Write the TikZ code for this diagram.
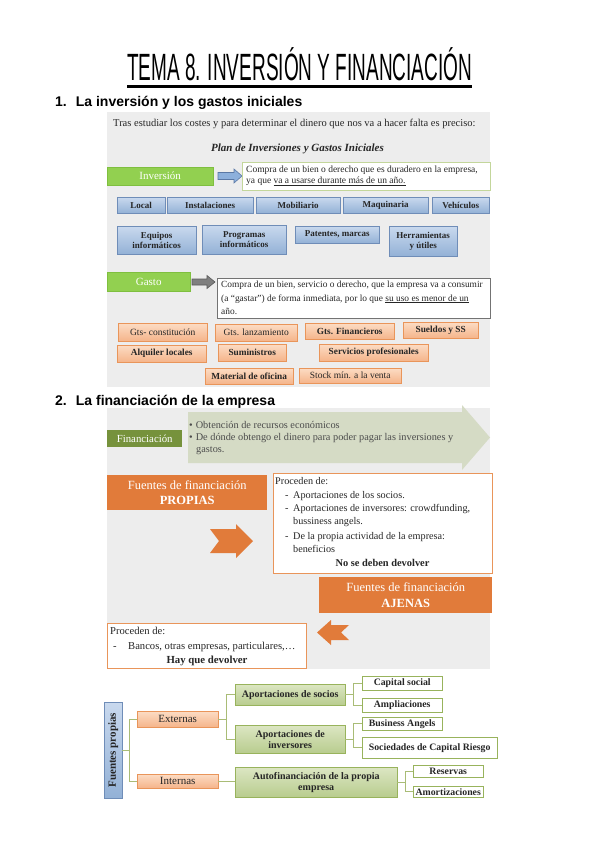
\documentclass[tikz,border=0pt]{standalone}
\usepackage{fontspec}
\setmainfont{Liberation Serif}
\newfontfamily\sansf{Liberation Sans}
\definecolor{bgray}{HTML}{EDEDED}
\definecolor{grn}{HTML}{92D050}
\definecolor{grnbd}{HTML}{7FBF3F}
\definecolor{blueT}{HTML}{C9D9EE}
\definecolor{blueB}{HTML}{93B1D6}
\definecolor{bluebd}{HTML}{6F8DB8}
\definecolor{orT}{HTML}{FCDCC4}
\definecolor{orB}{HTML}{F5B48A}
\definecolor{orbd}{HTML}{E9955A}
\definecolor{orDark}{HTML}{E17B3A}
\definecolor{olive}{HTML}{76923C}
\definecolor{sage}{HTML}{D5DBC5}
\definecolor{lgrnbd}{HTML}{C3D69B}
\definecolor{gT}{HTML}{DCE6C3}
\definecolor{gB}{HTML}{B8CC8E}
\definecolor{gbd}{HTML}{98B35C}
\definecolor{tline}{HTML}{A9BC76}
\definecolor{txt}{HTML}{262626}
\definecolor{arrblue}{HTML}{8DB0DC}
\definecolor{arrbluebd}{HTML}{5A78A5}

\newcommand\bx[7]{\node[#6,anchor=north west,minimum width={(#4)-(#2)},minimum height={(#5)-(#3)}] (#1) at (#2,#3) {#7};}

\begin{document}
\begin{tikzpicture}[x=1pt,y=-1pt,
 box/.style={inner sep=0pt,align=center,text=txt},
 bluebox/.style={box,draw=bluebd,top color=blueT,bottom color=blueB,font=\fontsize{9}{10}\selectfont\bfseries},
 peach/.style={box,draw=orbd,top color=orT,bottom color=orB,font=\fontsize{9.5}{11}\selectfont},
 peachb/.style={peach,font=\fontsize{9.3}{11}\selectfont\bfseries},
 greenbtn/.style={box,fill=grn,draw=grnbd,text=white,font=\fontsize{11}{12}\selectfont},
 whitebox/.style={box,fill=white},
 orbox/.style={box,fill=orDark,text=white,font=\fontsize{12.5}{15.5}\selectfont},
 greenmid/.style={box,draw=gbd,top color=gT,bottom color=gB,font=\fontsize{10}{11}\selectfont\bfseries},
 leaf/.style={box,draw=gbd,fill=white,font=\fontsize{9.8}{10}\selectfont\bfseries},
 tree/.style={draw=tline,line width=1pt},
 body/.style={inner sep=0pt,align=left,text=txt},
 head/.style={inner sep=0pt,anchor=base west,font=\sansf\bfseries\fontsize{14}{16}\selectfont},
]
\useasboundingbox (0,0) rectangle (600,848);
\fill[white] (0,0) rectangle (600,848);

% title
\node[inner sep=0pt,anchor=base] (title) at (299.5,81) {\resizebox{345pt}{\height}{\fontsize{38}{38}\selectfont\sansf TEMA 8. INVERSIÓN Y FINANCIACIÓN}};
\draw[line width=3pt] (127,87) -- (472,87);

% ---------- section 1
\node[head] (h1) at (55,107) {1.\hspace{9pt}La inversión y los gastos iniciales};
\bx{sec1}{107}{112}{490}{387}{fill=bgray,inner sep=0pt}{}
\node[body,anchor=base west,font=\fontsize{10.5}{12}\selectfont] (intro) at (113,126) {Tras estudiar los costes y para determinar el dinero que nos va a hacer falta es preciso:};
\node[body,anchor=base,font=\fontsize{11}{12}\selectfont\bfseries\itshape] (plan) at (297.5,151) {Plan de Inversiones y Gastos Iniciales};

\bx{inv}{107}{167}{213}{185}{greenbtn}{Inversión}
\filldraw[fill=arrblue,draw=arrbluebd,line width=0.6pt] (218,172.5)--(234,172.5)--(234,169)--(242,176)--(234,183)--(234,179.5)--(218,179.5)--cycle;
\bx{invd}{242}{162}{490}{190}{whitebox,draw=lgrnbd,line width=1pt}{}
\node[body,anchor=west,font=\fontsize{9.5}{10.5}\selectfont] (invt) at (246,176) {Compra de un bien o derecho que es duradero en la empresa,\\ya que \underline{va a usarse durante más de un año.}};

\bx{b1}{117}{197}{165}{213}{bluebox}{Local}
\bx{b2}{167}{197}{253}{213}{bluebox}{Instalaciones}
\bx{b3}{256}{197}{340}{213}{bluebox}{Mobiliario}
\bx{b4}{343}{197}{428}{213}{bluebox}{Maquinaria}
\bx{b5}{432}{197}{489}{213}{bluebox}{Vehículos}
\bx{b6}{117}{226}{196}{254}{bluebox}{Equipos\\informáticos}
\bx{b7}{202}{225}{286}{254}{bluebox}{Programas\\informáticos}
\bx{b8}{295}{226}{379}{243}{bluebox}{Patentes, marcas}
\bx{b9}{389}{226}{457}{256}{bluebox}{Herramientas\\y útiles}

\bx{gas}{107}{272}{190}{291}{greenbtn}{Gasto}
\filldraw[fill=black!50,draw=black!65,line width=0.6pt] (192,279)--(207,279)--(207,275.5)--(215,282)--(207,288.5)--(207,285)--(192,285)--cycle;
\bx{gasd}{217}{278}{490}{318}{whitebox,draw=black!55,line width=0.8pt}{}
\node[body,anchor=west,font=\fontsize{9.4}{13.5}\selectfont] (gast) at (221,298) {Compra de un bien, servicio o derecho, que la empresa va a consumir\\(a ``gastar'') de forma inmediata, por lo que \underline{su uso es menor de un}\\año.};

\bx{o1}{118}{323}{207}{341}{peach}{Gts- constitución}
\bx{o2}{215}{324}{297}{341}{peach}{Gts. lanzamiento}
\bx{o3}{305}{323}{394}{339}{peachb}{Gts. Financieros}
\bx{o4}{403}{322}{478}{338}{peachb}{Sueldos y SS}
\bx{o5}{117}{345}{206}{362}{peachb}{Alquiler locales}
\bx{o6}{218}{344}{286}{361}{peachb}{Suministros}
\bx{o7}{319}{344}{428}{361}{peachb}{Servicios profesionales}
\bx{o8}{205}{368}{293}{384}{peachb}{Material de oficina}
\bx{o9}{299}{368}{401}{383}{peach}{Stock mín. a la venta}

% ---------- section 2
\node[head] (h2) at (55,405) {2.\hspace{9pt}La financiación de la empresa};
\bx{sec2}{107}{408}{490}{669}{fill=bgray,inner sep=0pt}{}
\fill[sage] (188,412)--(462,412)--(462,405)--(490,437.5)--(462,470)--(462,463)--(188,463)--cycle;
\bx{fin}{107}{430}{182}{447}{box,fill=olive,text=white,font=\fontsize{10.8}{12}\selectfont}{Financiación}
\node[body,anchor=north west,text=black!70,font=\fontsize{10.3}{12}\selectfont] (fint) at (189,421.5) {•\hspace{3pt}Obtención de recursos económicos\\•\hspace{3pt}De dónde obtengo el dinero para poder pagar las inversiones y\\\hspace{7pt}gastos.};

\bx{prop}{107}{475}{267}{510}{orbox}{Fuentes de financiación\\\textbf{PROPIAS}}
\bx{propd}{273}{473}{492}{573}{whitebox,draw=orbd,line width=1pt}{}
\node[body,anchor=north west,font=\fontsize{10.2}{12.8}\selectfont] (propt) at (275,477) {Proceden de:\\[1.5pt]
\makebox[18pt][l]{\hspace{10pt}-}Aportaciones de los socios.\\
\makebox[18pt][l]{\hspace{10pt}-}Aportaciones de inversores: crowdfunding,\\
\hspace{18pt}bussiness angels.\\[3pt]
\makebox[18pt][l]{\hspace{10pt}-}De la propia actividad de la empresa:\\
\hspace{18pt}beneficios};
\node[box,anchor=base,font=\fontsize{10.4}{11}\selectfont\bfseries] (propno) at (382.5,566) {No se deben devolver};
\fill[orDark] (210,529)--(236,529)--(236,524)--(253,541)--(236,558)--(236,553)--(210,553)--(219,541)--cycle;

\bx{aje}{319}{577}{492}{613}{orbox}{Fuentes de financiación\\\textbf{AJENAS}}
\fill[orDark] (349,625)--(331,625)--(331,620)--(317,632.5)--(331,645)--(331,640)--(349,640)--(341,632.5)--cycle;
\bx{ajed}{107}{623}{306}{668}{whitebox,draw=orbd,line width=1pt}{}
\node[body,anchor=north west,font=\fontsize{10.6}{14.5}\selectfont] (ajet) at (110,627) {Proceden de:\\
\makebox[18pt][l]{\hspace{3pt}-}Bancos, otras empresas, particulares,\dots};
\node[box,anchor=base,font=\fontsize{10.8}{11}\selectfont\bfseries] (ajeno) at (207,663) {Hay que devolver};

% ---------- tree
\bx{fp}{104}{702}{122}{798}{box,draw=bluebd,top color=blueT,bottom color=blueB}{}
\node[box,rotate=90,font=\fontsize{11}{12}\selectfont\bfseries] (fpt) at (fp.center) {Fuentes propias};
\bx{ext}{137}{711}{218}{727}{peach,font=\fontsize{11}{12}\selectfont}{Externas}
\bx{int}{137}{774}{218}{788}{peach,font=\fontsize{11}{12}\selectfont}{Internas}
\bx{soc}{235}{684}{345}{705}{greenmid}{Aportaciones de socios}
\bx{inve}{235}{725}{345}{753}{greenmid}{Aportaciones de\\inversores}
\bx{auto}{235}{767}{397}{797}{greenmid}{Autofinanciación de la propia\\empresa}
\bx{cap}{362}{676}{442}{690}{leaf}{Capital social}
\bx{amp}{362}{698}{442}{712}{leaf}{Ampliaciones}
\bx{bus}{362}{717}{442}{730}{leaf}{Business Angels}
\bx{scr}{362}{737}{497}{758}{leaf}{Sociedades de Capital Riesgo}
\bx{res}{413}{765}{483}{777}{leaf}{Reservas}
\bx{amo}{413}{786}{483}{797}{leaf}{Amortizaciones}

\draw[tree] (fp.east) -- ++(7,0) |- (ext.west);
\draw[tree] (fp.east) -- ++(7,0) |- (int.west);
\draw[tree] (ext.east) -- ++(8,0) |- (soc.west);
\draw[tree] (ext.east) -- ++(8,0) |- (inve.west);
\draw[tree] (int.east) -- (int.east -| auto.west);
\draw[tree] (soc.east) -- ++(8,0) |- (cap.west);
\draw[tree] (soc.east) -- ++(8,0) |- (amp.west);
\draw[tree] (inve.east) -- ++(8,0) |- (bus.west);
\draw[tree] (inve.east) -- ++(8,0) |- (scr.west);
\draw[tree] (auto.east) -- ++(8,0) |- (res.west);
\draw[tree] (auto.east) -- ++(8,0) |- (amo.west);
\end{tikzpicture}
\end{document}
